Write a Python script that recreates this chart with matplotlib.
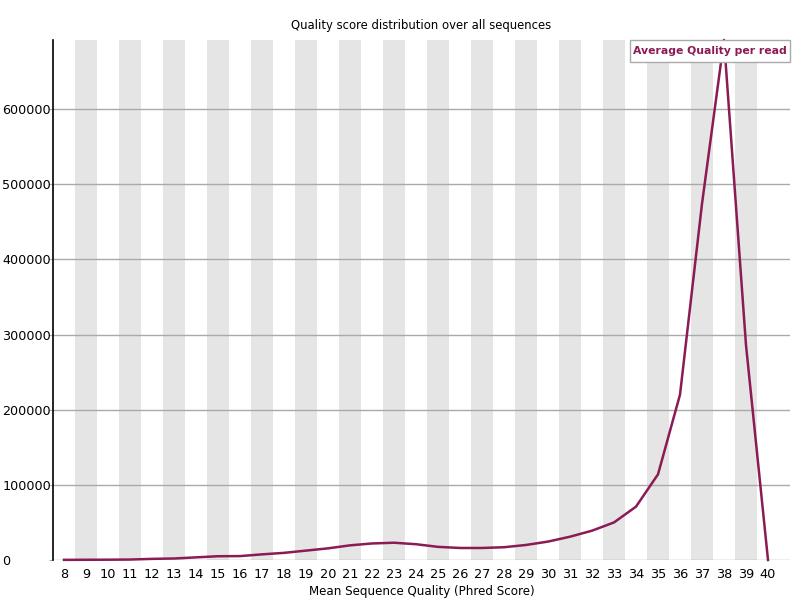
import matplotlib
matplotlib.use("Agg")
import matplotlib.pyplot as plt
from matplotlib.patches import Rectangle

quality = list(range(8, 41))
counts = [200, 300, 400, 600, 1500, 2000, 3500, 5000, 5200, 7500, 9500,
          12500, 15500, 19500, 22000, 23000, 21000, 17500, 16000, 16000,
          17000, 20000, 24500, 31000, 39000, 50000, 71000, 114000, 220000,
          474000, 692000, 286000, 0]
yticks = [0, 100000, 200000, 300000, 400000, 500000, 600000]
title = "Quality score distribution over all sequences"
xlabel = "Mean Sequence Quality (Phred Score)"
legend_label = "Average Quality per read"

line_color = "#8b1a55"

fig = plt.figure(figsize=(8, 6), dpi=100)
ax = fig.add_axes([53/800, 40/600, 737/800, 520/600])

# alternating stripes
for i, q in enumerate(quality):
    if i % 2 == 1:
        ax.axvspan(q - 0.5, q + 0.5, color="#e5e5e5", lw=0, zorder=0)

ax.set_xlim(quality[0] - 0.5, quality[0] - 0.5 + 737/22)
ax.set_ylim(0, 692000)

for y in yticks:
    ax.axhline(y, color="#aaaaaa", lw=1, zorder=1)

ax.plot(quality, counts, color=line_color, lw=1.8, zorder=3, clip_on=False)

for s in ["top", "right", "bottom"]:
    ax.spines[s].set_visible(False)
ax.spines["left"].set_color("black")
ax.spines["left"].set_linewidth(1.2)

ax.set_yticks(yticks)
ax.set_yticklabels([str(v) for v in yticks])
ax.tick_params(axis="y", length=3, color="#aaaaaa", pad=33.5, labelsize=9.2)
for lbl in ax.get_yticklabels():
    lbl.set_horizontalalignment("left")

ax.set_xticks(quality)
ax.set_xticklabels([str(q) for q in quality])
ax.tick_params(axis="x", length=0, pad=6, labelsize=9.3)

ax.set_xlabel(xlabel, fontsize=8.6, labelpad=3)
ax.set_title(title, fontsize=8.4, pad=8)

# legend box
bx0, bx1 = (630 - 53) / 737, (790 - 53) / 737
by0, by1 = (560 - 62) / 520, (560 - 40) / 520
ax.add_patch(Rectangle((bx0, by0), bx1 - bx0, by1 - by0, transform=ax.transAxes,
                       facecolor="white", edgecolor="#aaaaaa", lw=1, zorder=5,
                       clip_on=False))
ax.text((bx0 + bx1) / 2, (by0 + by1) / 2, legend_label, transform=ax.transAxes,
        ha="center", va="center", fontsize=7.8, fontweight="bold",
        color=line_color, zorder=6)

fig.savefig("out.png", dpi=100)
